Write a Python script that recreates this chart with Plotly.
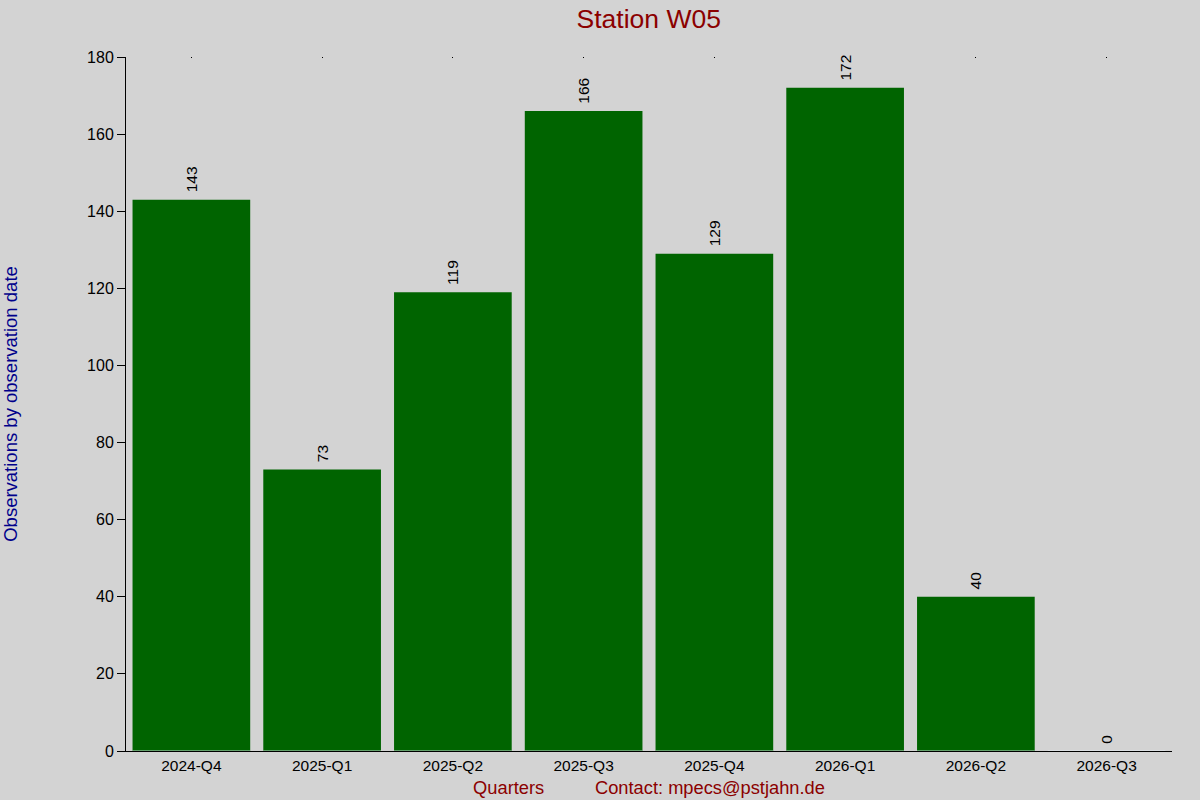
import plotly.graph_objects as go

quarters = ['2024-Q4', '2025-Q1', '2025-Q2', '2025-Q3', '2025-Q4', '2026-Q1', '2026-Q2', '2026-Q3']
observations = [143, 73, 119, 166, 129, 172, 40, 0]

fig = go.Figure()
fig.add_trace(go.Bar(
    x=quarters,
    y=observations,
    marker=dict(color='#006400', line=dict(width=0)),
    text=['\u00a0' + str(v) for v in observations],
    textposition='outside',
    textangle=-90,
    textfont=dict(color='black', size=15.5),
    cliponaxis=False,
    showlegend=False
))
# invisible twin axis, only for the tiny tick dots along the top edge
fig.add_trace(go.Bar(x=quarters, y=[0] * len(quarters), xaxis='x2', showlegend=False,
                     hoverinfo='skip', marker=dict(color='rgba(0,0,0,0)')))

fig.update_layout(
    width=1200, height=800,
    paper_bgcolor='#d3d3d3',
    plot_bgcolor='#d3d3d3',
    font=dict(family='Liberation Sans, Arial, sans-serif', color='black', size=15),
    title=dict(text='Station W05', x=0.5406, xanchor='center', y=0.977, yanchor='middle',
               font=dict(size=26.5, color='#8b0000')),
    margin=dict(l=126, r=28, t=57, b=49),
    bargap=0.1,
    xaxis=dict(
        showline=True, linecolor='black', linewidth=1,
        ticks='', showgrid=False, zeroline=False,
        tickfont=dict(size=15.5),
        title=dict(text='Quarters' + '\u00a0' * 10 + 'Contact: mpecs@pstjahn.de',
                   font=dict(size=18.3, color='#8b0000'), standoff=8),
        automargin=False,
    ),
    xaxis2=dict(
        overlaying='x', side='top', matches='x', showline=False,
        ticks='inside', ticklen=1, tickcolor='black', showticklabels=False,
        showgrid=False, zeroline=False, automargin=False,
    ),
    yaxis=dict(
        range=[0, 180], dtick=20,
        showline=True, linecolor='black', linewidth=1,
        ticks='outside', ticklen=8, tickcolor='black',
        showgrid=False, zeroline=False,
        tickfont=dict(size=16),
        title=dict(text='Observations by observation date',
                   font=dict(size=18.5, color='#00008b'), standoff=64),
        automargin=False,
    ),
)

fig.write_html("out.html", config={'displayModeBar': False},
               post_script="document.body.style.margin='0px';")
